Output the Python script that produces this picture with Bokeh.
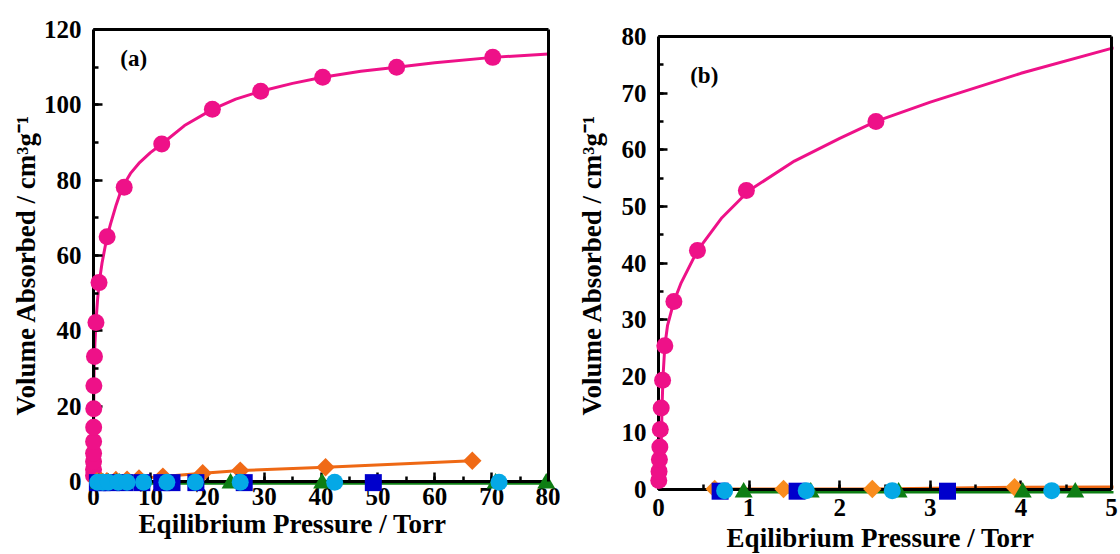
import numpy as np
from bokeh.plotting import figure
from bokeh.layouts import row
from bokeh.models import Range1d, LinearAxis, SingleIntervalTicker, FixedTicker, Label
from bokeh.embed import file_html
from bokeh.resources import INLINE

# ---- isotherm data: pressure (Torr) vs. volume absorbed (cm3/g) ----
# magenta sample: measured points
pink_p = [0.003, 0.006, 0.01, 0.015, 0.02, 0.03, 0.045, 0.07, 0.17, 0.43,
          0.97, 2.4, 5.4, 12.0, 20.9, 29.4, 40.3, 53.3, 70.2]
pink_v = [1.6, 3.2, 5.3, 7.5, 10.6, 14.4, 19.3, 25.4, 33.2, 42.2,
          52.8, 65.0, 78.1, 89.6, 98.8, 103.6, 107.3, 110.0, 112.6]
# magenta sample: fitted isotherm curve
fit_p = [0.0, 0.03, 0.04, 0.05, 0.07, 0.1, 0.17, 0.25, 0.43, 0.7, 1.0, 1.5,
         2.0, 2.4, 3.0, 4.0, 5.0, 6.5, 8.0, 10.0, 12.0, 16.0, 20.9, 25.0,
         29.4, 35.0, 40.3, 47.0, 53.3, 60.0, 70.2, 80.0]
fit_v = [0.0, 8.0, 15.0, 20.0, 25.4, 29.0, 33.2, 36.5, 42.2, 48.0, 52.8, 58.0,
         62.0, 65.0, 68.4, 73.5, 77.9, 81.8, 84.5, 87.3, 89.6, 94.5, 98.8, 101.5,
         103.6, 105.7, 107.3, 108.9, 110.0, 111.2, 112.6, 113.5]
# orange sample
orange_p = [0.62, 1.38, 2.36, 3.93, 5.9, 8.0, 12.2, 19.2, 25.8, 40.8, 66.6]
orange_v = [0.1, 0.1, 0.1, 0.4, 0.5, 0.8, 1.3, 2.2, 2.9, 3.8, 5.5]
# blue sample
blue_p = [0.68, 1.53, 3.19, 5.5, 8.5, 12.0, 13.8, 18.0, 26.5, 49.2]
blue_v = [-0.3, -0.3, -0.3, -0.3, -0.3, -0.3, -0.3, -0.3, -0.3, -0.3]
# green sample
green_p = [0.94, 1.68, 2.65, 4.02, 4.6, 24.1, 40.2, 70.7, 79.6]
green_v = [-0.5, -0.5, -0.5, -0.5, -0.5, -0.5, -0.5, -0.5, -0.5]
# cyan sample
cyan_p = [0.73, 1.63, 2.58, 4.34, 5.9, 8.8, 12.9, 17.9, 25.8, 42.4, 71.3]
cyan_v = [-0.2, -0.2, -0.2, -0.2, -0.2, -0.2, -0.2, -0.2, -0.2, -0.2, -0.2]

# tick values for the two panels
ticks_xa = [0, 10, 20, 30, 40, 50, 60, 70, 80]
ticks_ya = [0, 20, 40, 60, 80, 100, 120]
ticks_xb = [0, 1, 2, 3, 4, 5]
ticks_yb = [0, 10, 20, 30, 40, 50, 60, 70, 80]

PINK = "#EE1188"
ORANGE_A = "#F06A16"
ORANGE_B = "#F98C1E"
ORANGE_LINE = "#EE6814"
BLUE = "#0000CC"
GREEN = "#0E7E14"
CYAN = "#05A8E6"

FONT = "Liberation Serif"
X_LABEL = "Eqilibrium Pressure / Torr"
Y_LABEL = "Volume Absorbed / cm\u00b3g\u207b\u00b9"

# shared vertical geometry so both boxes line up in the row
TOP_BORDER, FRAME_H, BOTTOM_BORDER = 27, 475, 52


def bare_axis(**kw):
    """Axis line (plus optional inward ticks) drawn at a fixed data location."""
    return LinearAxis(axis_line_width=3, axis_line_color="black",
                      major_label_text_color=None, major_label_text_font_size="1px",
                      major_tick_line_width=2.5, minor_tick_line_width=2.5,
                      major_tick_out=0, minor_tick_out=0, **kw)


def panel(xticks, yticks, frame_w, pads, border_l, border_r, tag, tag_x, tag_y,
          diamond_color, xtick_standoff, ytick_standoff, xlab_standoff, ylab_standoff):
    x_end, y_end = xticks[-1], yticks[-1]
    x_step, y_step = xticks[1] - xticks[0], yticks[1] - yticks[0]
    pad_l, pad_r, pad_b, pad_t = pads
    # ranges extend past the box so markers sitting on the axes stay whole
    sx = (frame_w - pad_l - pad_r) / x_end
    sy = (FRAME_H - pad_b - pad_t) / y_end
    p = figure(frame_width=frame_w, frame_height=FRAME_H,
               x_range=Range1d(-pad_l / sx, x_end + pad_r / sx),
               y_range=Range1d(-pad_b / sy, y_end + pad_t / sy),
               output_backend="svg", toolbar_location=None, title=None,
               min_border_left=border_l, min_border_top=TOP_BORDER,
               min_border_right=border_r, min_border_bottom=BOTTOM_BORDER,
               background_fill_color="white", border_fill_color="white")
    p.outline_line_color = None
    p.grid.visible = False

    # side axes carry only the tick labels and the titles
    for ax, ticks, lab in ((p.xaxis[0], xticks, X_LABEL), (p.yaxis[0], yticks, Y_LABEL)):
        ax.ticker = FixedTicker(ticks=ticks)
        ax.axis_label = lab
        ax.axis_line_color = None
        ax.major_tick_line_color = None
        ax.minor_tick_line_color = None
        ax.major_tick_in = 0
        ax.major_tick_out = 0
        ax.minor_tick_in = 0
        ax.minor_tick_out = 0
        ax.major_label_text_font = FONT
        ax.major_label_text_font_style = "bold"
        ax.major_label_text_font_size = "25px"
        ax.major_label_text_color = "black"
        ax.axis_label_text_font = FONT
        ax.axis_label_text_font_style = "bold"
        ax.axis_label_text_font_size = "27px"
        ax.axis_label_text_color = "black"
    p.xaxis[0].major_label_standoff = xtick_standoff
    p.xaxis[0].axis_label_standoff = xlab_standoff
    p.yaxis[0].major_label_standoff = ytick_standoff
    p.yaxis[0].axis_label_standoff = ylab_standoff

    # axis lines with inward ticks through the origin
    p.add_layout(bare_axis(fixed_location=0, bounds=(0, x_end),
                           ticker=SingleIntervalTicker(interval=x_step, num_minor_ticks=2),
                           major_tick_in=9, minor_tick_in=5), "below")
    p.add_layout(bare_axis(fixed_location=0, bounds=(0, y_end),
                           ticker=SingleIntervalTicker(interval=y_step, num_minor_ticks=2),
                           major_tick_in=9, minor_tick_in=5), "left")

    p.line(green_p, green_v, line_color=GREEN, line_width=2.5)
    p.line(orange_p, orange_v, line_color=ORANGE_LINE, line_width=3)
    p.line(fit_p, fit_v, line_color=PINK, line_width=3)
    rs = [
        p.scatter(pink_p, pink_v, marker="circle", size=17,
                  fill_color=PINK, line_color=None),
        p.scatter(orange_p, orange_v, marker="square", size=13, angle=np.pi / 4,
                  fill_color=diamond_color, line_color=None),
        p.scatter(blue_p, blue_v, marker="square", size=17,
                  fill_color=BLUE, line_color=None),
        p.scatter(green_p, green_v, marker="triangle", size=18,
                  fill_color=GREEN, line_color=None),
        p.scatter(cyan_p, cyan_v, marker="circle", size=17,
                  fill_color=CYAN, line_color=None),
    ]
    for r in rs:
        r.level = "overlay"

    # plain top and right sides of the box, drawn over everything
    top = bare_axis(fixed_location=y_end, bounds=(0, x_end), ticker=FixedTicker(ticks=[]),
                    major_tick_in=0, minor_tick_in=0)
    right = bare_axis(fixed_location=x_end, bounds=(0, y_end), ticker=FixedTicker(ticks=[]),
                      major_tick_in=0, minor_tick_in=0)
    top.level = "overlay"
    right.level = "overlay"
    p.add_layout(top, "above")
    p.add_layout(right, "right")

    p.add_layout(Label(x=tag_x, y=tag_y, text=tag, text_baseline="middle",
                       text_align="left", text_font=FONT, text_font_style="bold",
                       text_font_size="23px", text_color="black"))
    return p


# panel (a): the box starts well left of the origin so the x title sits left of centre
pa = panel(ticks_xa, ticks_ya, frame_w=516, pads=(59, 2, 21, 2), border_l=34, border_r=10,
           tag="(a)", tag_x=4.7, tag_y=112.2, diamond_color=ORANGE_A,
           xtick_standoff=-15, ytick_standoff=-47, xlab_standoff=1, ylab_standoff=0)
pb = panel(ticks_xb, ticks_yb, frame_w=466, pads=(11, 2, 13, 9), border_l=87, border_r=7,
           tag="(b)", tag_x=0.35, tag_y=73.1, diamond_color=ORANGE_B,
           xtick_standoff=-4, ytick_standoff=1, xlab_standoff=4, ylab_standoff=12)

layout = row(pa, pb, spacing=0)
open("out.html", "w").write(file_html(layout, INLINE))
